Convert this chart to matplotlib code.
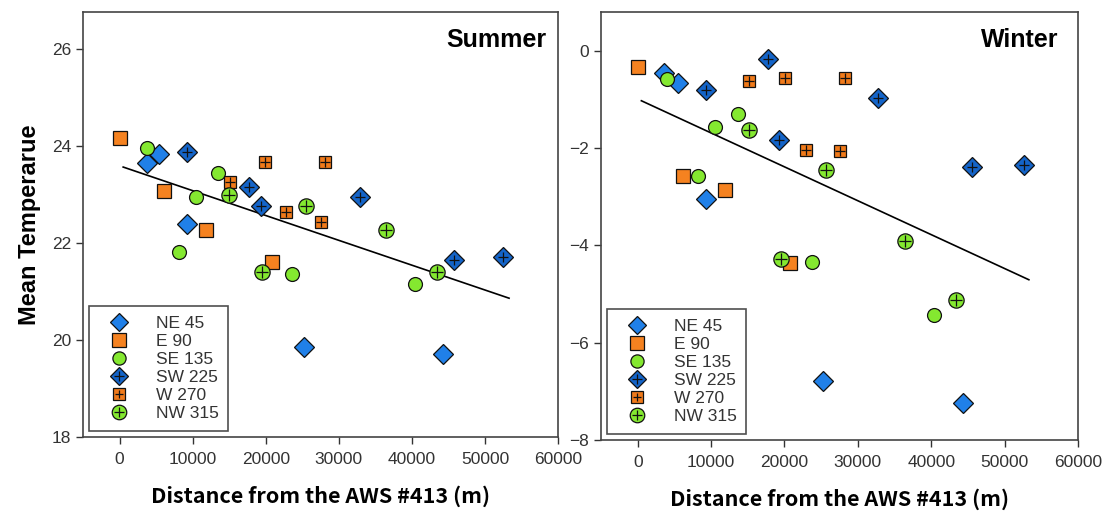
import numpy as np
import matplotlib
matplotlib.use("Agg")
import matplotlib.pyplot as plt
from matplotlib.lines import Line2D

plt.rcParams['font.family'] = ['Liberation Sans', 'DejaVu Sans']

# Data: distance (m) and mean temperature per direction
series = ['NE 45', 'E 90', 'SE 135', 'SW 225', 'W 270', 'NW 315']

summer_x = {
    'NE 45': [3700, 5460, 9300, 25200, 44300],
    'E 90': [0, 6100, 11900, 20900],
    'SE 135': [3800, 8200, 10500, 13500, 23600, 40400],
    'SW 225': [9300, 17700, 19400, 32900, 45700, 52500],
    'W 270': [15100, 19900, 22800, 27600, 28100],
    'NW 315': [15000, 19500, 25500, 36400, 43400],
}
summer_y = {
    'NE 45': [23.65, 23.84, 22.39, 19.86, 19.71],
    'E 90': [24.17, 23.07, 22.27, 21.61],
    'SE 135': [23.96, 21.81, 22.95, 23.44, 21.36, 21.15],
    'SW 225': [23.88, 23.15, 22.76, 22.95, 21.65, 21.71],
    'W 270': [23.26, 23.67, 22.63, 22.44, 23.67],
    'NW 315': [22.99, 21.40, 22.77, 22.27, 21.40],
}

winter_x = {
    'NE 45': [3600, 5450, 9300, 25300, 44300],
    'E 90': [0, 6200, 11900, 20800],
    'SE 135': [3950, 8200, 10500, 13600, 23700, 40400],
    'SW 225': [9300, 17800, 19300, 32800, 45600, 52600],
    'W 270': [15100, 20100, 22900, 27600, 28300],
    'NW 315': [15100, 19500, 25600, 36400, 43400],
}
winter_y = {
    'NE 45': [-0.46, -0.65, -3.05, -6.78, -7.23],
    'E 90': [-0.34, -2.58, -2.87, -4.36],
    'SE 135': [-0.57, -2.58, -1.57, -1.30, -4.34, -5.44],
    'SW 225': [-0.80, -0.16, -1.83, -0.97, -2.38, -2.35],
    'W 270': [-0.62, -0.55, -2.03, -2.05, -0.55],
    'NW 315': [-1.62, -4.27, -2.44, -3.90, -5.13],
}

# regression lines (intercept, slope) and x range
summer_fit = (23.59, -5.12e-5)
winter_fit = (-0.99, -6.97e-5)
fit_range = [500, 53300]

# marker styles
style = {
    'NE 45': dict(marker='D', color='#2080E8', size=10, cross=False),
    'E 90': dict(marker='s', color='#F58220', size=10, cross=False),
    'SE 135': dict(marker='o', color='#84E830', size=10, cross=False),
    'SW 225': dict(marker='D', color='#1464C8', size=10, cross=True),
    'W 270': dict(marker='s', color='#F07A1A', size=9, cross=True),
    'NW 315': dict(marker='o', color='#84E830', size=11, cross=True),
}


def draw_panel(ax, xs, ys, fit, title, ylim, yticks, title_x):
    for name in series:
        st = style[name]
        ax.plot(xs[name], ys[name], linestyle='none', marker=st['marker'],
                markersize=st['size'], markerfacecolor=st['color'],
                markeredgecolor='#111111', markeredgewidth=0.9, zorder=3)
        if st['cross']:
            ax.plot(xs[name], ys[name], linestyle='none', marker='+',
                    markersize=st['size'] * 0.75, color='#111111',
                    markeredgewidth=0.9, zorder=4)
    fx = np.array(fit_range)
    ax.plot(fx, fit[0] + fit[1] * fx, color='black', lw=1.2, zorder=2)

    ax.set_xlim(-5000, 60000)
    ax.set_ylim(*ylim)
    ax.set_xticks(np.arange(0, 60001, 10000))
    ax.set_yticks(yticks)
    ax.tick_params(direction='out', length=5, width=1, color='#333333')
    ax.tick_params(axis='y', labelsize=12.5, labelcolor='#333333')
    ax.tick_params(axis='x', labelsize=12.5, labelcolor='#333333', pad=6)
    for sp in ax.spines.values():
        sp.set_color('#444444')
        sp.set_linewidth(1.2)
    ax.text(title_x, 0.935, title, transform=ax.transAxes, ha='right',
            va='center', fontsize=18, fontweight='bold')
    ax.set_xlabel('Distance from the AWS #413 (m)', fontsize=15.5,
                  family=['Noto Sans CJK KR', 'DejaVu Sans'],
                  fontweight='bold', labelpad=13)

    handles = []
    for name in series:
        st = style[name]
        base = Line2D([], [], linestyle='none', marker=st['marker'],
                      markersize=st['size'] * 0.95, markerfacecolor=st['color'],
                      markeredgecolor='#111111', markeredgewidth=0.9)
        if st['cross']:
            plus = Line2D([], [], linestyle='none', marker='+',
                          markersize=st['size'] * 0.7, color='#111111',
                          markeredgewidth=0.9)
            handles.append((base, plus))
        else:
            handles.append(base)
    leg = ax.legend(handles, series, loc='lower left', fontsize=12.5,
                    frameon=True, fancybox=False, edgecolor='#222222',
                    borderpad=0.55, labelspacing=0.17, handletextpad=0.9,
                    handlelength=2.4, borderaxespad=0.35)
    leg.get_frame().set_linewidth(1.2)
    for t in leg.get_texts():
        t.set_color('#333333')


fig = plt.figure(figsize=(11.05, 5.12), dpi=100)
ax1 = fig.add_axes([0.0751, 0.1465, 0.4299, 0.830])
ax2 = fig.add_axes([0.5439, 0.1406, 0.4317, 0.836])

draw_panel(ax1, summer_x, summer_y, summer_fit, 'Summer', (18, 26.76),
           [18, 20, 22, 24, 26], 0.975)
draw_panel(ax2, winter_x, winter_y, winter_fit, 'Winter', (-8, 0.8),
           [-8, -6, -4, -2, 0], 0.96)
ax1.set_ylabel('Mean Temperarue', fontsize=17, fontweight='bold', labelpad=8)

fig.savefig('out.png', dpi=100)
